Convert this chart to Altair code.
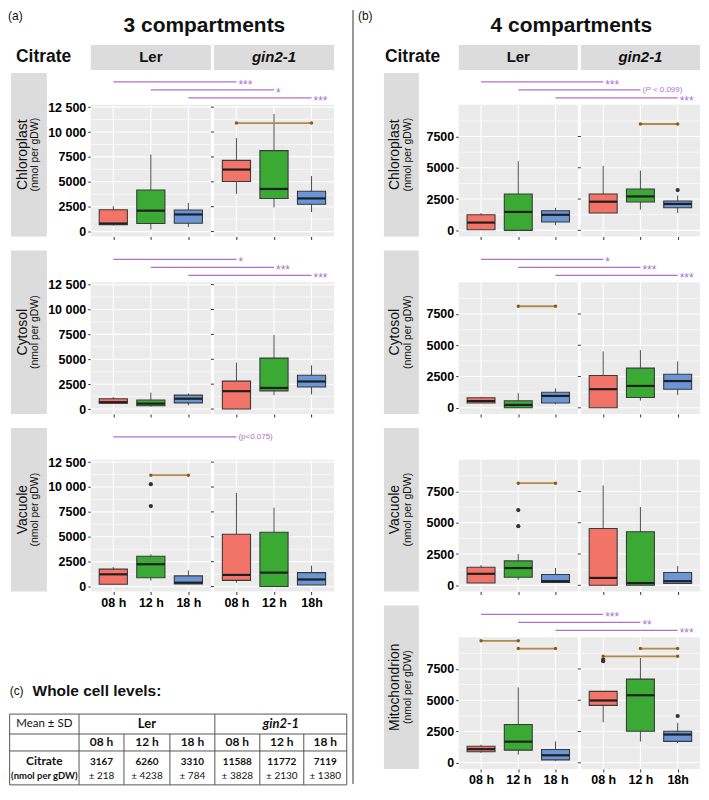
import altair as alt
import pandas as pd

# ============================ data ============================
TIMES = ["08 h", "12 h", "18 h"]
X_LABELS = ["08 h", "12 h", "18 h", "08 h", "12 h", "18h"]
GENOTYPES = ["Ler", "gin2-1"]
ROW_HEADER = "Citrate"
UNIT = "(nmol per gDW)"
PANEL_TITLES = ["3 compartments", "4 compartments"]
PANEL_TAGS = ["(a)", "(b)", "(c)"]
BOX_COLORS = ["#F27469", "#3AAA35", "#6A95D6"]

A_YTICKS = [0, 2500, 5000, 7500, 10000, 12500]
B_YTICKS = [0, 2500, 5000, 7500]

# box order in every compartment: Ler 08/12/18 h, gin2-1 08/12/18 h
# ---- (a) 3 compartments ----
A_CHL_LO = [600, 200, 450, 3790, 2420, 1960]
A_CHL_Q1 = [680, 810, 840, 5030, 3330, 2740]
A_CHL_MED = [810, 2100, 1720, 6230, 4280, 3330]
A_CHL_Q3 = [2200, 4180, 2170, 7150, 8130, 4050]
A_CHL_HI = [2560, 7740, 2880, 9400, 11810, 5580]
A_CHL_OUT = []
A_CHL_BROWN = [(3, 5, 10900)]
A_CHL_SIG = [(0, 3, "***"), (1, 4, "*"), (2, 5, "***")]

A_CYT_LO = [590, 230, 360, 0, 1400, 1470]
A_CYT_Q1 = [590, 330, 620, 0, 1830, 2220]
A_CYT_MED = [690, 550, 1040, 1800, 2120, 2770]
A_CYT_Q3 = [1040, 910, 1400, 2810, 5120, 3390]
A_CYT_HI = [1210, 1660, 1570, 4670, 7440, 4400]
A_CYT_OUT = []
A_CYT_BROWN = []
A_CYT_SIG = [(0, 3, "*"), (1, 4, "***"), (2, 5, "***")]

A_VAC_LO = [230, 580, 230, 390, 0, 160]
A_VAC_Q1 = [230, 880, 260, 620, 0, 160]
A_VAC_MED = [1230, 2240, 390, 1170, 1400, 710]
A_VAC_Q3 = [1750, 3050, 1070, 5260, 5450, 1400]
A_VAC_HI = [1980, 3250, 1620, 9400, 7930, 2110]
A_VAC_OUT = [(1, 10280), (1, 8090)]
A_VAC_BROWN = [(1, 2, 11190)]
A_VAC_SIG = [(0, 3, "(p<0.075)")]

# ---- (b) 4 compartments ----
B_CHL_LO = [50, 0, 410, 1390, 1650, 1390]
B_CHL_Q1 = [50, 0, 670, 1390, 2270, 1800]
B_CHL_MED = [620, 1470, 1240, 2290, 2710, 2110]
B_CHL_Q3 = [1240, 2910, 1570, 2910, 3300, 2350]
B_CHL_HI = [1370, 5520, 1800, 5150, 4770, 2780]
B_CHL_OUT = [(5, 3220)]
B_CHL_BROWN = [(4, 5, 8500)]
B_CHL_SIG = [(0, 3, "***"), (1, 4, "(P < 0.099)"), (2, 5, "***")]

B_CYT_LO = [390, 0, 280, 0, 570, 1030]
B_CYT_Q1 = [390, 0, 390, 0, 820, 1490]
B_CYT_MED = [540, 230, 950, 1490, 1750, 2140]
B_CYT_Q3 = [800, 570, 1240, 2580, 3170, 2680]
B_CYT_HI = [880, 1160, 1550, 4510, 4610, 3710]
B_CYT_OUT = []
B_CYT_BROWN = [(1, 2, 8120)]
B_CYT_SIG = [(0, 3, "*"), (1, 4, "***"), (2, 5, "***")]

B_VAC_LO = [180, 440, 230, 0, 0, 150]
B_VAC_Q1 = [180, 640, 230, 0, 0, 150]
B_VAC_MED = [920, 1380, 330, 590, 180, 330]
B_VAC_Q3 = [1440, 1950, 870, 4540, 4280, 1030]
B_VAC_HI = [1620, 2510, 1380, 7980, 6260, 1540]
B_VAC_OUT = [(1, 6015), (1, 4730)]
B_VAC_BROWN = [(1, 2, 8160)]
B_VAC_SIG = []

B_MIT_LO = [800, 650, 130, 3240, 1690, 1580]
B_MIT_Q1 = [880, 1010, 230, 4590, 2520, 1710]
B_MIT_MED = [1090, 1690, 600, 4980, 5400, 2260]
B_MIT_Q3 = [1320, 3060, 1060, 5710, 6690, 2520]
B_MIT_HI = [1450, 6020, 1710, 5710, 8380, 3190]
B_MIT_OUT = [(3, 8250), (3, 8120), (5, 3740)]
B_MIT_BROWN = [(0, 1, 9750), (1, 2, 9130), (4, 5, 9130), (3, 5, 8510)]
B_MIT_SIG = [(0, 3, "***"), (1, 4, "**"), (2, 5, "***")]

# ---- (c) whole cell table ----
TABLE_TITLE = "Whole cell levels:"
TABLE_CORNER = "Mean ± SD"
TABLE_MEAN = [3167, 6260, 3310, 11588, 11772, 7119]
TABLE_SD = [218, 4238, 784, 3828, 2130, 1380]

# ============================ style / layout ============================
FONT = "Liberation Sans"
TFONT = "Lato"
PANEL_BG = "#EBEBEB"
STRIP_BG = "#DCDCDC"
PURPLE = "#B070CC"
BROWN = "#B08A4A"
BROWN_DOT = "#8C5A14"
INK = "#333333"

X0, X1 = 0.4, 6.88
XSPAN = X1 - X0
POS = [1.0, 2.0, 3.0, 4.28, 5.28, 6.28]
PANELS = [(0.4, 3.6), (3.68, 6.88)]
HALF_BOX = 0.375

HH = 60     # header height
HS = 32     # significance band height
HP = 132    # plot (grey panel) height
TOPM = 7    # white margin above rows 2..n
SP = 3      # vconcat spacing
W_A = 244
W_B = 242
A_YRANGE = (-490, 12730)
B_YRANGE = (-490, 10030)


def _xlab_expr():
    s = ""
    for k in range(len(POS) - 1):
        mid = (POS[k] + POS[k + 1]) / 2
        s += f"datum.value < {mid} ? '{X_LABELS[k]}' : "
    return s + f"'{X_LABELS[-1]}'"


XLAB_EXPR = _xlab_expr()
YLAB_EXPR = ("datum.value >= 10000 ? format(floor(datum.value / 1000), 'd') + ' ' + "
             "format(datum.value % 1000, '03d') : format(datum.value, 'd')")


def row_chart(name, lo, q1, med, q3, hi, outl, brown, sig, W, yr, yticks,
              strip_px, top_m, show_labels):
    ylo, yhi = yr
    ppu = HP / (yhi - ylo)
    strip_top = yhi + HS / ppu
    ymax = strip_top + top_m / ppu
    xs = alt.Scale(domain=[X0, X1], nice=False, zero=False)
    ys = alt.Scale(domain=[ylo, ymax], nice=False, zero=False)
    xax = alt.Axis(values=POS, labelExpr=XLAB_EXPR, labels=show_labels, ticks=True,
                   tickSize=3, tickColor=INK, tickWidth=1, domain=False, grid=False,
                   title=None, labelFont=FONT, labelFontSize=12.5, labelFontWeight="bold",
                   labelColor="#000000", labelPadding=2, labelFlush=False)
    yax = alt.Axis(values=yticks, labelExpr=YLAB_EXPR, ticks=True, tickSize=3,
                   tickColor=INK, tickWidth=1, domain=False, grid=False, title=None,
                   labelFont=FONT, labelFontSize=12.5, labelFontWeight="bold",
                   labelColor="#000000", labelPadding=2, labelFlush=False)

    def X(f):
        return alt.X(f + ":Q", scale=xs, axis=xax)

    def Y(f):
        return alt.Y(f + ":Q", scale=ys, axis=yax)

    def uu(px):
        return X0 + px * XSPAN / W

    L = []
    bg = pd.DataFrame({"x": [p[0] for p in PANELS], "x2": [p[1] for p in PANELS],
                       "y": [ylo, ylo], "y2": [yhi, yhi]})
    L.append(alt.Chart(bg).mark_rect(color=PANEL_BG).encode(x=X("x"), x2="x2", y=Y("y"), y2="y2"))

    st = pd.DataFrame({"x": [uu(strip_px[0])], "x2": [uu(strip_px[1])], "y": [ylo], "y2": [strip_top]})
    L.append(alt.Chart(st).mark_rect(color=STRIP_BG).encode(x=X("x"), x2="x2", y=Y("y"), y2="y2"))
    cx = (strip_px[0] + strip_px[1]) / 2
    cy = (ylo + strip_top) / 2
    t1 = pd.DataFrame({"x": [uu(cx - 6)], "y": [cy], "t": [name]})
    t2 = pd.DataFrame({"x": [uu(cx + 6.5)], "y": [cy], "t": [UNIT]})
    L.append(alt.Chart(t1).mark_text(angle=270, font=FONT, fontSize=14, color="#111111",
                                     align="center", baseline="middle")
             .encode(x=X("x"), y=Y("y"), text="t:N"))
    L.append(alt.Chart(t2).mark_text(angle=270, font=FONT, fontSize=10.5, color="#111111",
                                     align="center", baseline="middle")
             .encode(x=X("x"), y=Y("y"), text="t:N"))

    step = yticks[1] - yticks[0]
    minor = [t + step / 2 for t in yticks if t + step / 2 < yhi]
    hmin = pd.DataFrame([{"x": p[0], "x2": p[1], "y": t} for p in PANELS for t in minor])
    hmaj = pd.DataFrame([{"x": p[0], "x2": p[1], "y": t} for p in PANELS for t in yticks])
    vmaj = pd.DataFrame([{"x": p, "y": ylo, "y2": yhi} for p in POS])
    L.append(alt.Chart(hmin).mark_rule(color="white", strokeWidth=0.6).encode(x=X("x"), x2="x2", y=Y("y")))
    L.append(alt.Chart(hmaj).mark_rule(color="white", strokeWidth=1.1).encode(x=X("x"), x2="x2", y=Y("y")))
    L.append(alt.Chart(vmaj).mark_rule(color="white", strokeWidth=1.1).encode(x=X("x"), y=Y("y"), y2="y2"))

    gt = pd.DataFrame([{"x": PANELS[1][0] - 3 * XSPAN / W, "x2": PANELS[1][0], "y": t} for t in yticks])
    L.append(alt.Chart(gt).mark_rule(color=INK, strokeWidth=1).encode(x=X("x"), x2="x2", y=Y("y")))

    wk = pd.DataFrame({"x": POS, "y": lo, "y2": hi})
    L.append(alt.Chart(wk).mark_rule(color="#4d4d4d", strokeWidth=1).encode(x=X("x"), y=Y("y"), y2="y2"))
    bx = pd.DataFrame({"x": [p - HALF_BOX for p in POS], "x2": [p + HALF_BOX for p in POS],
                       "y": q1, "y2": q3, "g": TIMES * 2})
    L.append(alt.Chart(bx).mark_rect(stroke="#3b3b3b", strokeWidth=1.1).encode(
        x=X("x"), x2="x2", y=Y("y"), y2="y2",
        color=alt.Color("g:N", scale=alt.Scale(domain=TIMES, range=BOX_COLORS), legend=None)))
    md = pd.DataFrame({"x": [p - HALF_BOX for p in POS], "x2": [p + HALF_BOX for p in POS], "y": med})
    L.append(alt.Chart(md).mark_rule(color="#1f1f1f", strokeWidth=2.2).encode(x=X("x"), x2="x2", y=Y("y")))
    if outl:
        od = pd.DataFrame({"x": [POS[i] for i, v in outl], "y": [v for i, v in outl]})
        L.append(alt.Chart(od).mark_circle(size=18, color=INK, opacity=1).encode(x=X("x"), y=Y("y")))

    if brown:
        bl = pd.DataFrame({"x": [POS[i] for i, j, v in brown], "x2": [POS[j] for i, j, v in brown],
                           "y": [v for i, j, v in brown]})
        bd = pd.DataFrame({"x": [POS[i] for i, j, v in brown] + [POS[j] for i, j, v in brown],
                           "y": [v for i, j, v in brown] * 2})
        L.append(alt.Chart(bl).mark_rule(color=BROWN, strokeWidth=1.8).encode(x=X("x"), x2="x2", y=Y("y")))
        L.append(alt.Chart(bd).mark_circle(size=12, color=BROWN_DOT, opacity=1).encode(x=X("x"), y=Y("y")))

    if sig:
        rows, stars, plain, ital = [], [], [], []
        for i, j, txt in sig:
            y = yhi + (HS - 9 - 8 * (i % 3)) / ppu
            rows.append({"x": POS[i], "x2": POS[j], "y": y})
            if txt.startswith("(P"):
                plain.append({"x": POS[j], "y": y, "t": "(", "dx": 2})
                ital.append({"x": POS[j], "y": y, "t": "P", "dx": 4.8})
                plain.append({"x": POS[j], "y": y, "t": txt[2:].strip(), "dx": 12.5})
            elif txt.startswith("("):
                plain.append({"x": POS[j], "y": y, "t": txt, "dx": 2})
            else:
                stars.append({"x": POS[j], "y": y, "t": txt})
        L.append(alt.Chart(pd.DataFrame(rows)).mark_rule(color=PURPLE, strokeWidth=1.2)
                 .encode(x=X("x"), x2="x2", y=Y("y")))
        if stars:
            L.append(alt.Chart(pd.DataFrame(stars)).mark_text(
                font=FONT, fontSize=12, color=PURPLE, align="left", baseline="middle", dx=2, dy=3)
                .encode(x=X("x"), y=Y("y"), text="t:N"))
        for part, italic in ((plain, False), (ital, True)):
            for r in part:
                L.append(alt.Chart(pd.DataFrame([r])).mark_text(
                    font=FONT, fontSize=8, color=PURPLE, align="left", baseline="middle",
                    dx=r["dx"], fontStyle="italic" if italic else "normal")
                    .encode(x=X("x"), y=Y("y"), text="t:N"))

    return alt.layer(*L).properties(width=W, height=HP + HS + top_m)


def header_chart(tag, title, W, tag_px, title_px, citrate_px):
    xs = alt.Scale(domain=[X0, X1], nice=False, zero=False)
    ys = alt.Scale(domain=[0, HH], reverse=True, nice=False, zero=False)

    def X(f):
        return alt.X(f + ":Q", scale=xs, axis=None)

    def Y(f):
        return alt.Y(f + ":Q", scale=ys, axis=None)

    def uu(px):
        return X0 + px * XSPAN / W

    strips = pd.DataFrame({"x": [p[0] for p in PANELS], "x2": [p[1] for p in PANELS],
                           "y": [HH - 25] * 2, "y2": [HH] * 2})
    L = [alt.Chart(strips).mark_rect(color=STRIP_BG).encode(x=X("x"), x2="x2", y=Y("y"), y2="y2")]

    def txt(x, y, t, **kw):
        return alt.Chart(pd.DataFrame({"x": [x], "y": [y], "t": [t]})).mark_text(
            font=FONT, color="#111111", baseline="middle", **kw).encode(x=X("x"), y=Y("y"), text="t:N")

    L.append(txt(uu(tag_px), 6, tag, fontSize=12, align="left"))
    L.append(txt(uu(title_px), 16, title, fontSize=21, fontWeight="bold", align="center"))
    L.append(txt(uu(citrate_px), HH - 12.5, ROW_HEADER, fontSize=17.5, fontWeight="bold", align="left"))
    L.append(txt(sum(PANELS[0]) / 2, HH - 12.5, GENOTYPES[0], fontSize=15, fontWeight="bold", align="center"))
    L.append(txt(sum(PANELS[1]) / 2, HH - 12.5, GENOTYPES[1], fontSize=15, fontWeight="bold",
                 fontStyle="italic", align="center"))
    return alt.layer(*L).properties(width=W, height=HH)


def table_chart(W):
    HT = 174
    f = W / 249
    cb = [v * f for v in [-83, -12, 34, 81, 127, 173, 218, 262]]
    rb = [102, 122, 139, 173]
    xs = alt.Scale(domain=[0, W], nice=False, zero=False)
    ys = alt.Scale(domain=[0, HT], reverse=True, nice=False, zero=False)

    def X(f_):
        return alt.X(f_ + ":Q", scale=xs, axis=None)

    def Y(f_):
        return alt.Y(f_ + ":Q", scale=ys, axis=None)

    hl = pd.DataFrame([{"x": cb[0], "x2": cb[-1], "y": r} for r in rb])
    vl = [{"x": cb[k], "y": rb[0], "y2": rb[1]} for k in (0, 1, 4, 7)]
    vl += [{"x": c, "y": rb[1], "y2": rb[3]} for c in cb]
    L = [alt.Chart(hl).mark_rule(color="#555555", strokeWidth=1).encode(x=X("x"), x2="x2", y=Y("y")),
         alt.Chart(pd.DataFrame(vl)).mark_rule(color="#555555", strokeWidth=1)
         .encode(x=X("x"), y=Y("y"), y2="y2")]

    def txt(df, **kw):
        return alt.Chart(pd.DataFrame(df)).mark_text(
            baseline="middle", color="#111111", **kw).encode(x=X("x"), y=Y("y"), text="t:N")

    L.append(txt({"x": [cb[0]], "y": [79], "t": [PANEL_TAGS[2]]}, font=FONT, fontSize=12, align="left"))
    L.append(txt({"x": [cb[0] + 23], "y": [79], "t": [TABLE_TITLE]}, font=FONT, fontSize=15.5,
                 fontWeight="bold", align="left"))
    r0 = (rb[0] + rb[1]) / 2
    r1 = (rb[1] + rb[2]) / 2
    r2 = (rb[2] + rb[3]) / 2
    L.append(txt({"x": [(cb[0] + cb[1]) / 2], "y": [r0], "t": [TABLE_CORNER]}, font=TFONT, fontSize=11.5,
                 align="center"))
    L.append(txt({"x": [(cb[1] + cb[4]) / 2], "y": [r0], "t": [GENOTYPES[0]]}, font=TFONT, fontSize=13,
                 fontWeight="bold", align="center"))
    L.append(txt({"x": [(cb[4] + cb[7]) / 2], "y": [r0], "t": [GENOTYPES[1]]}, font=TFONT, fontSize=13,
                 fontWeight="bold", fontStyle="italic", align="center"))
    mids = [(cb[k] + cb[k + 1]) / 2 for k in range(1, 7)]
    L.append(txt({"x": mids, "y": [r1] * 6, "t": TIMES * 2}, font=TFONT, fontSize=12, fontWeight="bold",
                 align="center"))
    L.append(txt({"x": [(cb[0] + cb[1]) / 2], "y": [r2 - 7], "t": [ROW_HEADER]}, font=TFONT, fontSize=12,
                 fontWeight="bold", align="center"))
    L.append(txt({"x": [(cb[0] + cb[1]) / 2], "y": [r2 + 8], "t": [UNIT]}, font=TFONT, fontSize=9.5,
                 fontWeight="bold", align="center"))
    L.append(txt({"x": mids, "y": [r2 - 6] * 6, "t": [str(v) for v in TABLE_MEAN]}, font=TFONT,
                 fontSize=10, fontWeight="bold", align="center"))
    L.append(txt({"x": mids, "y": [r2 + 8] * 6, "t": ["± " + str(v) for v in TABLE_SD]}, font=TFONT,
                 fontSize=10, align="center"))
    return alt.layer(*L).properties(width=W, height=HT)


A_ROWS = [
    ("Chloroplast", A_CHL_LO, A_CHL_Q1, A_CHL_MED, A_CHL_Q3, A_CHL_HI, A_CHL_OUT, A_CHL_BROWN, A_CHL_SIG),
    ("Cytosol", A_CYT_LO, A_CYT_Q1, A_CYT_MED, A_CYT_Q3, A_CYT_HI, A_CYT_OUT, A_CYT_BROWN, A_CYT_SIG),
    ("Vacuole", A_VAC_LO, A_VAC_Q1, A_VAC_MED, A_VAC_Q3, A_VAC_HI, A_VAC_OUT, A_VAC_BROWN, A_VAC_SIG),
]
B_ROWS = [
    ("Chloroplast", B_CHL_LO, B_CHL_Q1, B_CHL_MED, B_CHL_Q3, B_CHL_HI, B_CHL_OUT, B_CHL_BROWN, B_CHL_SIG),
    ("Cytosol", B_CYT_LO, B_CYT_Q1, B_CYT_MED, B_CYT_Q3, B_CYT_HI, B_CYT_OUT, B_CYT_BROWN, B_CYT_SIG),
    ("Vacuole", B_VAC_LO, B_VAC_Q1, B_VAC_MED, B_VAC_Q3, B_VAC_HI, B_VAC_OUT, B_VAC_BROWN, B_VAC_SIG),
    ("Mitochondrion", B_MIT_LO, B_MIT_Q1, B_MIT_MED, B_MIT_Q3, B_MIT_HI, B_MIT_OUT, B_MIT_BROWN, B_MIT_SIG),
]

col_a = [header_chart(PANEL_TAGS[0], PANEL_TITLES[0], W_A, -83, 114, -75)]
for k, r in enumerate(A_ROWS):
    col_a.append(row_chart(*r, W=W_A, yr=A_YRANGE, yticks=A_YTICKS, strip_px=(-80, -44),
                           top_m=0 if k == 0 else TOPM, show_labels=(k == len(A_ROWS) - 1)))
col_a.append(table_chart(W_A))

col_b = [header_chart(PANEL_TAGS[1], PANEL_TITLES[1], W_B, -101, 113, -74)]
for k, r in enumerate(B_ROWS):
    col_b.append(row_chart(*r, W=W_B, yr=B_YRANGE, yticks=B_YTICKS, strip_px=(-75, -40),
                           top_m=0 if k == 0 else TOPM, show_labels=(k == len(B_ROWS) - 1)))

TOTAL_H = 776
sep = alt.Chart(pd.DataFrame({"y": [0], "y2": [1]})).mark_rule(color="#333333", strokeWidth=1).encode(
    x=alt.value(0),
    y=alt.Y("y:Q", scale=alt.Scale(domain=[0, 1], nice=False, zero=False), axis=None),
    y2="y2",
).properties(width=1, height=TOTAL_H)

chart = alt.hconcat(
    alt.vconcat(*col_a, spacing=SP),
    sep,
    alt.vconcat(*col_b, spacing=SP),
    spacing=4,
).properties(padding=0, background="white").configure_view(strokeWidth=0)

chart.save("out.html", embed_options={"renderer": "svg", "actions": False})
